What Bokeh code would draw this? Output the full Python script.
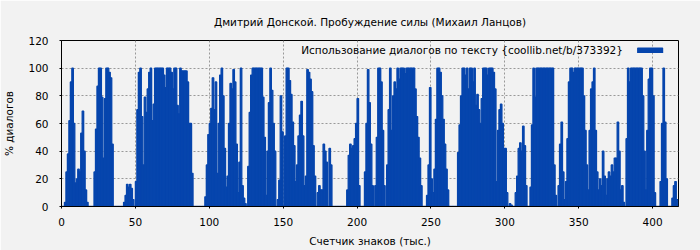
from bokeh.plotting import figure
from bokeh.models import Range1d, Legend, LegendItem, FixedTicker, ColumnDataSource
from bokeh.embed import file_html
from bokeh.resources import INLINE

title_text = "Дмитрий Донской. Пробуждение силы (Михаил Ланцов)"
x_label = "Счетчик знаков (тыс.)"
y_label = "% диалогов"
legend_text = "Использование диалогов по тексту {coollib.net/b/373392}"
x_ticks = [0, 50, 100, 150, 200, 250, 300, 350, 400]
y_ticks = [0, 20, 40, 60, 80, 100, 120]

# percentage of dialogue per 1k characters of text
dialog_pct = [
    0, 0, 3, 25, 38, 62, 90, 100, 60, 17, 20, 27, 25, 53, 69, 40, 12, 3, 0, 0,
    0, 0, 25, 56, 87, 100, 100, 79, 35, 78, 100, 100, 97, 93, 45, 0, 0, 0, 0, 0,
    0, 0, 3, 8, 16, 14, 16, 13, 5, 0, 18, 70, 97, 100, 65, 30, 79, 68, 85, 97,
    100, 62, 74, 100, 100, 100, 100, 100, 100, 95, 86, 100, 100, 100, 97, 85, 100, 100, 73, 67,
    100, 98, 98, 98, 98, 90, 60, 60, 24, 0, 0, 0, 0, 0, 0, 0, 0, 7, 30, 52,
    60, 71, 93, 70, 90, 24, 60, 95, 100, 80, 42, 14, 22, 60, 89, 85, 99, 90, 45, 10,
    32, 100, 15, 6, 2, 0, 29, 68, 95, 100, 100, 100, 100, 100, 100, 100, 79, 50, 8, 40,
    75, 100, 84, 60, 40, 0, 5, 19, 80, 54, 0, 51, 100, 100, 91, 81, 61, 44, 18, 30,
    51, 66, 76, 51, 15, 22, 99, 97, 92, 83, 44, 22, 0, 10, 15, 12, 12, 45, 40, 32,
    0, 42, 30, 0, 0, 0, 0, 0, 0, 0, 0, 0, 0, 12, 37, 45, 42, 44, 49, 60,
    78, 15, 0, 0, 0, 25, 60, 99, 75, 45, 15, 0, 15, 50, 100, 100, 90, 55, 15, 0,
    30, 70, 100, 55, 80, 90, 85, 100, 92, 100, 100, 100, 96, 100, 100, 100, 100, 100, 100, 85,
    65, 50, 35, 15, 0, 0, 0, 8, 30, 86, 20, 10, 27, 63, 100, 100, 97, 80, 63, 45,
    27, 12, 0, 0, 0, 0, 0, 0, 39, 59, 80, 100, 100, 95, 100, 85, 100, 100, 90, 100,
    73, 81, 70, 60, 78, 100, 100, 100, 95, 100, 100, 100, 97, 85, 18, 55, 70, 74, 60, 42,
    42, 10, 0, 2, 1, 0, 0, 10, 22, 42, 46, 40, 58, 44, 15, 0, 0, 14, 59, 100,
    79, 100, 100, 100, 100, 100, 100, 100, 100, 100, 100, 100, 100, 30, 8, 0, 15, 45, 61, 25,
    5, 18, 49, 90, 100, 100, 97, 100, 100, 100, 100, 100, 100, 80, 55, 30, 12, 55, 85, 90,
    100, 55, 25, 12, 20, 15, 40, 22, 8, 20, 25, 22, 30, 25, 35, 35, 61, 40, 12, 15,
    3, 0, 49, 100, 90, 100, 100, 100, 100, 100, 100, 100, 100, 80, 40, 12, 55, 92, 100, 100,
    80, 10, 0, 0, 0, 18, 60, 100, 61, 20, 0, 0, 0, 6, 15, 18, 5, 0,
]
chars_k = list(range(len(dialog_pct)))

bar_color = "#0645ad"
bg = "#f2f2f2"
font = "DejaVu Sans"
fs = "10.5px"

src = ColumnDataSource(dict(x=[k + 0.5 for k in chars_k], y=dialog_pct))

p = figure(width=700, height=250, output_backend="svg", toolbar_location=None,
           x_range=Range1d(0, 417.5), y_range=Range1d(0, 120),
           min_border_left=60, min_border_right=22, min_border_top=40, min_border_bottom=44)
p.background_fill_color = bg
p.border_fill_color = bg
p.outline_line_color = "black"
p.outline_line_width = 1

p.title.text = title_text
p.title.align = "center"
p.title.vertical_align = "bottom"
p.title.text_font = font
p.title.text_font_size = fs
p.title.text_font_style = "normal"
p.title.text_color = "#000000"
p.title.standoff = 25

bars = p.vbar(x="x", top="y", width=1, source=src, fill_color=bar_color,
              line_color=bar_color, line_width=1.3)
dummy = p.vbar(x=[], top=[], width=1, fill_alpha=0, line_alpha=0)

for ax, lab, ticks, ls, als in ((p.xaxis[0], x_label, x_ticks, 9, 6),
                                (p.yaxis[0], y_label, y_ticks, 11, 10)):
    ax.ticker = FixedTicker(ticks=ticks)
    ax.axis_label = lab
    ax.axis_label_text_font = font
    ax.axis_label_text_font_size = fs
    ax.axis_label_text_font_style = "normal"
    ax.axis_label_text_color = "#000000"
    ax.major_label_text_font = font
    ax.major_label_text_font_size = fs
    ax.major_label_text_color = "#000000"
    ax.axis_line_color = "black"
    ax.major_tick_line_color = "black"
    ax.major_tick_out = 2
    ax.major_tick_in = 0
    ax.minor_tick_line_color = None
    ax.major_label_standoff = ls
    ax.axis_label_standoff = als

for g in (p.xgrid[0], p.ygrid[0]):
    g.grid_line_color = "#999999"
    g.grid_line_dash = "2 2"
    g.grid_line_width = 1

legend = Legend(items=[LegendItem(label=legend_text, renderers=[dummy]),
                       LegendItem(label="", renderers=[bars])],
                location="top_right", orientation="horizontal",
                glyph_width=31, glyph_height=6, label_width=0, label_height=6,
                label_standoff=9, spacing=11, padding=0, margin=4,
                background_fill_alpha=0, border_line_color=None,
                label_text_font=font, label_text_font_size=fs, label_text_color="#000000")
p.add_layout(legend)

open("out.html", "w").write(file_html(p, INLINE))
